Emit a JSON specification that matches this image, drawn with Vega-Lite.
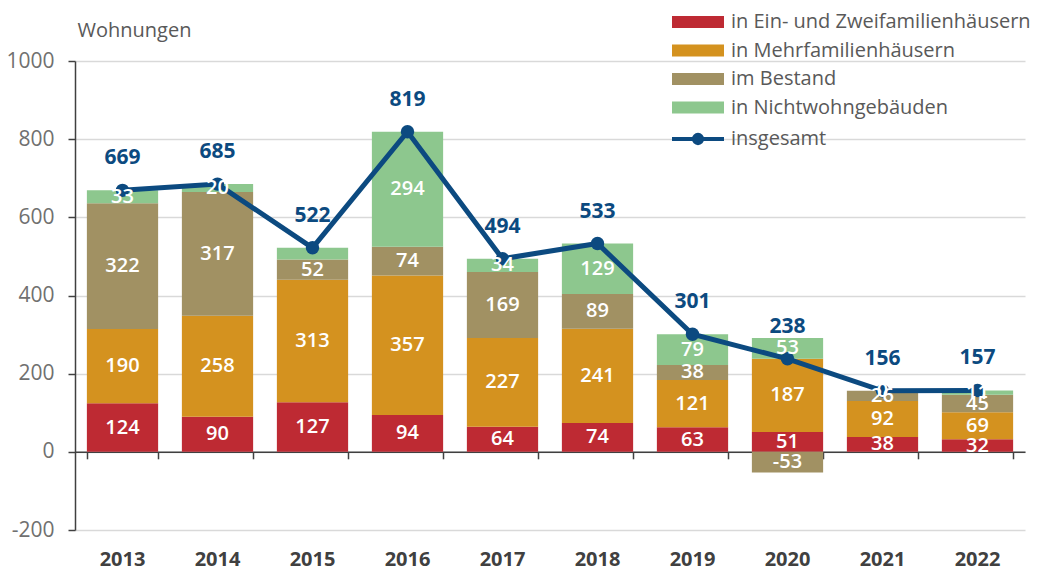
{
  "$schema": "https://vega.github.io/schema/vega-lite/v6.json",
  "width": 950,
  "height": 469,
  "autosize": {"type": "none"},
  "padding": {"left": 75, "top": 61, "right": 13, "bottom": 42},
  "config": {
    "view": {"stroke": null},
    "font": "Open Sans"
  },
  "datasets": {
    "bars": [
      {"year": "2013", "cat": "in Ein- und Zweifamilienhäusern", "o": 1, "value": 124},
      {"year": "2013", "cat": "in Mehrfamilienhäusern", "o": 2, "value": 190},
      {"year": "2013", "cat": "im Bestand", "o": 3, "value": 322},
      {"year": "2013", "cat": "in Nichtwohngebäuden", "o": 4, "value": 33},
      {"year": "2014", "cat": "in Ein- und Zweifamilienhäusern", "o": 1, "value": 90},
      {"year": "2014", "cat": "in Mehrfamilienhäusern", "o": 2, "value": 258},
      {"year": "2014", "cat": "im Bestand", "o": 3, "value": 317},
      {"year": "2014", "cat": "in Nichtwohngebäuden", "o": 4, "value": 20},
      {"year": "2015", "cat": "in Ein- und Zweifamilienhäusern", "o": 1, "value": 127},
      {"year": "2015", "cat": "in Mehrfamilienhäusern", "o": 2, "value": 313},
      {"year": "2015", "cat": "im Bestand", "o": 3, "value": 52},
      {"year": "2015", "cat": "in Nichtwohngebäuden", "o": 4, "value": 30},
      {"year": "2016", "cat": "in Ein- und Zweifamilienhäusern", "o": 1, "value": 94},
      {"year": "2016", "cat": "in Mehrfamilienhäusern", "o": 2, "value": 357},
      {"year": "2016", "cat": "im Bestand", "o": 3, "value": 74},
      {"year": "2016", "cat": "in Nichtwohngebäuden", "o": 4, "value": 294},
      {"year": "2017", "cat": "in Ein- und Zweifamilienhäusern", "o": 1, "value": 64},
      {"year": "2017", "cat": "in Mehrfamilienhäusern", "o": 2, "value": 227},
      {"year": "2017", "cat": "im Bestand", "o": 3, "value": 169},
      {"year": "2017", "cat": "in Nichtwohngebäuden", "o": 4, "value": 34},
      {"year": "2018", "cat": "in Ein- und Zweifamilienhäusern", "o": 1, "value": 74},
      {"year": "2018", "cat": "in Mehrfamilienhäusern", "o": 2, "value": 241},
      {"year": "2018", "cat": "im Bestand", "o": 3, "value": 89},
      {"year": "2018", "cat": "in Nichtwohngebäuden", "o": 4, "value": 129},
      {"year": "2019", "cat": "in Ein- und Zweifamilienhäusern", "o": 1, "value": 63},
      {"year": "2019", "cat": "in Mehrfamilienhäusern", "o": 2, "value": 121},
      {"year": "2019", "cat": "im Bestand", "o": 3, "value": 38},
      {"year": "2019", "cat": "in Nichtwohngebäuden", "o": 4, "value": 79},
      {"year": "2020", "cat": "in Ein- und Zweifamilienhäusern", "o": 1, "value": 51},
      {"year": "2020", "cat": "in Mehrfamilienhäusern", "o": 2, "value": 187},
      {"year": "2020", "cat": "im Bestand", "o": 3, "value": -53},
      {"year": "2020", "cat": "in Nichtwohngebäuden", "o": 4, "value": 53},
      {"year": "2021", "cat": "in Ein- und Zweifamilienhäusern", "o": 1, "value": 38},
      {"year": "2021", "cat": "in Mehrfamilienhäusern", "o": 2, "value": 92},
      {"year": "2021", "cat": "im Bestand", "o": 3, "value": 26},
      {"year": "2021", "cat": "in Nichtwohngebäuden", "o": 4, "value": 0},
      {"year": "2022", "cat": "in Ein- und Zweifamilienhäusern", "o": 1, "value": 32},
      {"year": "2022", "cat": "in Mehrfamilienhäusern", "o": 2, "value": 69},
      {"year": "2022", "cat": "im Bestand", "o": 3, "value": 45},
      {"year": "2022", "cat": "in Nichtwohngebäuden", "o": 4, "value": 11}
    ],
    "totals": [
      {"year": "2013", "total": 669},
      {"year": "2014", "total": 685},
      {"year": "2015", "total": 522},
      {"year": "2016", "total": 819},
      {"year": "2017", "total": 494},
      {"year": "2018", "total": 533},
      {"year": "2019", "total": 301},
      {"year": "2020", "total": 238},
      {"year": "2021", "total": 156},
      {"year": "2022", "total": 157}
    ]
  },
  "resolve": {"axis": {"x": "independent"}},
  "layer": [
    {
      "data": {"name": "bars"},
      "mark": {"type": "bar"},
      "encoding": {
        "x": {
          "field": "year", "type": "ordinal",
          "scale": {"paddingInner": 0.25, "paddingOuter": 0.125},
          "axis": {
            "orient": "bottom",
            "offset": -78.2, "labels": false, "title": null, "grid": false,
            "domain": true, "domainColor": "#404040", "domainWidth": 1.5,
            "ticks": true, "tickBand": "extent", "tickOffset": -11.875, "tickSize": 7, "tickColor": "#404040", "tickWidth": 1.5
          }
        },
        "y": {
          "field": "value", "type": "quantitative", "stack": "zero", "title": "Wohnungen",
          "scale": {"domain": [-200, 1000], "nice": false, "zero": false},
          "axis": {
            "values": [-200, 0, 200, 400, 600, 800, 1000],
            "labelExpr": "datum.value < 0 ? '-' + abs(datum.value) : '' + datum.value",
            "grid": true, "gridColor": "#d9d9d9", "gridWidth": 1.5,
            "domain": true, "domainColor": "#404040", "domainWidth": 1.5,
            "ticks": true, "tickSize": 7, "tickColor": "#404040", "tickWidth": 1.5,
            "labelFontSize": 21, "labelColor": "#707070", "labelPadding": 14, "labelFont": "Open Sans",
            "titleAngle": 0, "titleX": 2, "titleY": -31, "titleAlign": "left", "titleBaseline": "middle",
            "titleFontSize": 20, "titleFontWeight": "normal", "titleColor": "#595959", "titleFont": "Open Sans"
          }
        },
        "order": {"field": "o", "type": "quantitative"},
        "color": {
          "field": "cat", "type": "nominal",
          "scale": {
            "domain": ["in Ein- und Zweifamilienhäusern", "in Mehrfamilienhäusern", "im Bestand", "in Nichtwohngebäuden", "insgesamt"],
            "range": ["#BE2A33", "#D4921F", "#A19163", "#8DC78E", "#0C4A80"]
          },
          "legend": {
            "title": null, "orient": "none", "legendX": 613, "legendY": -49,
            "padding": 0, "symbolSize": 2704, "labelOffset": 23, "rowPadding": 8.5,
            "labelFontSize": 20, "labelColor": "#595959", "labelFont": "Open Sans", "labelLimit": 400,
            "encode": {
              "symbols": {
                "update": {
                  "shape": {"signal": "datum.value === 'insgesamt' ? 'M-1,0H1M0.16,0A0.16,0.16,0,1,1,-0.16,0A0.16,0.16,0,1,1,0.16,0Z' : 'M-1,-0.23H1V0.23H-1Z'"},
                  "strokeWidth": {"signal": "datum.value === 'insgesamt' ? 4 : 0"},
                  "fill": {"scale": "color", "field": "value"},
                  "stroke": {"scale": "color", "field": "value"},
                  "opacity": {"value": 1},
                  "fillOpacity": {"value": 1},
                  "strokeOpacity": {"value": 1}
                }
              }
            }
          }
        }
      }
    },
    {
      "data": {"name": "totals"},
      "mark": {"type": "line", "strokeWidth": 5, "point": {"filled": true, "size": 180, "opacity": 1}},
      "encoding": {
        "x": {"field": "year", "type": "ordinal", "axis": null},
        "y": {"field": "total", "type": "quantitative", "title": "Wohnungen"},
        "color": {"datum": "insgesamt", "type": "nominal"}
      }
    },
    {
      "data": {"name": "bars"},
      "transform": [
        {"stack": "value", "groupby": ["year"], "sort": [{"field": "o", "order": "ascending"}], "as": ["v0", "v1"]},
        {"calculate": "(datum.v0 + datum.v1) / 2", "as": "mid"},
        {"filter": "!(datum.year == '2015' && datum.o == 4)"}
      ],
      "mark": {"type": "text", "color": "white", "fontSize": 20, "fontWeight": 600, "baseline": "middle", "font": "Open Sans"},
      "encoding": {
        "x": {
          "field": "year", "type": "ordinal",
          "axis": {
            "orient": "bottom",
            "title": null, "domain": false, "ticks": false, "grid": false, "labelAngle": 0,
            "labelFontSize": 20, "labelFontWeight": "bold", "labelColor": "#404040", "labelPadding": 19, "labelFont": "Open Sans"
          }
        },
        "y": {"field": "mid", "type": "quantitative", "title": "Wohnungen"},
        "text": {"field": "value", "type": "nominal"}
      }
    },
    {
      "data": {"name": "totals"},
      "mark": {"type": "text", "color": "#0C4A80", "fontSize": 21, "fontWeight": "bold", "baseline": "middle", "dy": -32, "font": "Open Sans"},
      "encoding": {
        "x": {"field": "year", "type": "ordinal", "axis": null},
        "y": {"field": "total", "type": "quantitative", "title": "Wohnungen"},
        "text": {"field": "total", "type": "quantitative"}
      }
    }
  ]
}
